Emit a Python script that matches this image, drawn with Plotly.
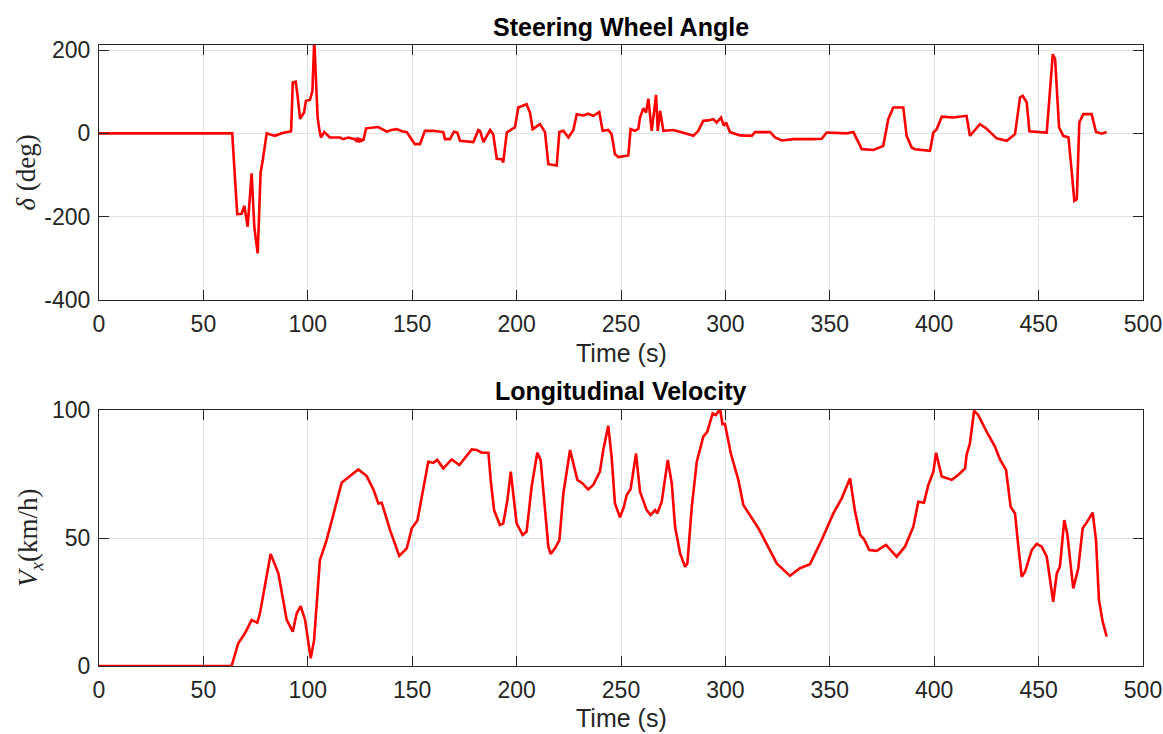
import plotly.graph_objects as go
from plotly.subplots import make_subplots

# ---------------- data ----------------
t_steer = [0, 63.8, 66.2, 68.3, 69.6, 71.2, 73.1, 74.4, 76.0, 77.4, 78.4, 80.3, 82.0, 84.3, 87.5,
           92.0, 92.8, 94.2, 95.1, 96.3, 98.2, 99.1, 101.0, 102.2, 103.1, 103.9, 104.7, 105.5,
           106.3, 107.9, 110.6, 115.4, 117.0, 119.4, 122.6, 123.5, 124.0, 124.5, 125.0, 125.5,
           126.0, 126.6, 127.9, 133.8, 137.8, 140.0, 142.6, 145.0, 147.4, 151.3, 153.7, 156.1,
           160.0, 164.9, 165.7, 168.1, 170.0, 171.6, 172.9, 179.3, 181.7, 182.5, 184.1, 187.3,
           188.8, 190.5, 192.9, 193.6, 195.3, 197.7, 199.2, 200.8, 204.8, 206.4, 207.7, 211.2,
           213.6, 215.2, 219.2, 220.5, 222.4, 224.8, 227.2, 228.8, 232.0, 234.3, 236.7, 239.6,
           241.2, 243.9, 245.5, 247.1, 248.7, 253.5, 254.6, 256.7, 258.3, 259.1, 260.7, 262.0,
           263.1, 264.7, 266.8, 267.6, 268.7, 270.3, 275.1, 281.5, 284.7, 287.0, 289.4, 291.8,
           294.2, 295.8, 297.9, 299.3, 300.3, 302.2, 307.0, 312.6, 314.2, 321.4, 323.8, 327.0,
           332.5, 342.1, 346.1, 348.5, 358.1, 361.3, 363.7, 365.3, 370.9, 375.6, 378.0, 380.4,
           385.2, 386.8, 389.2, 390.8, 398.0, 399.6, 401.2, 403.6, 409.1, 415.5, 417.1, 421.9,
           425.1, 429.9, 434.7, 438.7, 441.1, 442.4, 444.3, 445.6, 453.9, 455.5, 456.8, 457.9,
           459.8, 461.8, 464.3, 465.9, 467.1, 468.3, 469.5, 471.4, 475.4, 477.5, 480.2, 482.6]
steer_deg = [0, 0, -194, -193, -174, -224, -96, -226, -288, -94, -66, 0, -3, -6, 0,
             5, 122, 124, 90, 35, 50, 78, 80, 101, 225, 130, 38, 10,
             -10, 3, -10, -10, -14, -10, -14, -20, -10, -22, -12, -20,
             -14, -18, 12, 15, 4, 8, 10, 5, 3, -26, -26, 6,
             6, 3, -14, -14, 4, 2, -18, -21, 8, 6, -21, 8,
             -2, -61, -62, -70, 2, 10, 14, 62, 70, 50, 10, 22,
             3, -74, -77, 3, 6, -10, 8, 46, 43, 47, 42, 51,
             6, 8, -2, -50, -57, -53, 10, 6, 11, 38, 60, 50,
             83, 6, 92, 6, 54, 6, 8, -1, -6, 6, 30, 31,
             34, 26, 38, 18, 26, 3, -5, -6, 3, 3, -10, -17,
             -14, -14, -13, 2, 0, 3, -22, -38, -40, -30, 34, 62,
             62, -6, -34, -38, -42, 2, 10, 40, 38, 42, -6, 22,
             11, -12, -18, -2, 86, 90, 74, 5, 2, 106, 190, 178,
             14, -6, -10, -94, -162, -158, 26, 46, 46, 3, -1, 3]

t_vel = [0, 63.5, 66.7, 69.9, 73.1, 75.8, 77.1, 82.2, 85.9, 89.9, 92.8, 94.7, 96.6, 98.7, 101.4,
         103.0, 105.8, 109.0, 112.2, 116.2, 120.2, 124.2, 128.2, 131.4, 133.8, 135.4, 139.4,
         143.8, 147.4, 149.8, 152.5, 157.7, 160.1, 162.0, 164.9, 168.9, 172.6, 178.5, 180.9,
         183.3, 186.5, 187.6, 189.2, 192.0, 193.6, 195.6, 197.2, 198.4, 200.0, 202.9, 204.8,
         207.2, 209.9, 211.5, 213.6, 215.2, 216.3, 218.4, 220.5, 222.4, 225.6, 227.5, 229.1,
         231.2, 234.3, 236.7, 239.9, 241.5, 243.9, 245.5, 247.1, 249.5, 251.4, 252.7, 254.6,
         257.2, 259.1, 262.3, 264.2, 266.3, 267.4, 269.5, 272.4, 274.3, 275.9, 278.3, 280.7,
         281.8, 283.9, 286.3, 289.4, 291.3, 293.9, 295.5, 297.4, 298.6, 299.8, 302.6, 306.2,
         308.6, 315.8, 324.6, 330.9, 335.7, 340.5, 346.1, 351.7, 355.7, 359.7, 362.1, 364.5,
         366.4, 368.9, 372.4, 376.9, 382.0, 386.0, 390.0, 392.4, 395.1, 397.2, 399.6, 400.9,
         403.6, 408.4, 411.5, 414.8, 415.5, 417.1, 419.1, 421.1, 425.1, 429.1, 431.5, 434.4,
         436.6, 438.7, 440.3, 441.9, 443.5, 446.7, 449.1, 451.5, 453.9, 457.0, 458.7, 460.2,
         462.3, 463.7, 466.6, 469.0, 471.1, 473.0, 475.9, 477.5, 478.9, 480.7, 482.6]
vel_kmh = [0, 0, 8.9, 12.8, 18.0, 16.9, 20.6, 43.8, 36.2, 18.0, 13.4, 20.6, 23.4, 18.0, 3.0,
           10.0, 41.4, 49.2, 59.0, 71.6, 74.2, 76.8, 74.2, 69.0, 63.5, 63.8, 53.1,
           43.0, 46.0, 53.8, 56.8, 79.8, 79.4, 80.5, 77.2, 80.7, 78.5, 84.6, 84.4,
           83.3, 83.3, 72.7, 60.9, 55.1, 55.7, 64.8, 75.9, 67.4, 55.7, 51.2, 52.5,
           70.0, 83.3, 80.5, 60.9, 46.6, 43.8, 46.0, 49.2, 67.4, 84.4, 78.5, 72.7,
           71.6, 69.0, 70.7, 75.9, 84.4, 93.8, 81.8, 63.5, 58.1, 62.2, 66.8, 69.0,
           83.0, 68.1, 60.9, 59.0, 60.9, 59.6, 64.2, 80.5, 71.4, 54.4, 44.0, 38.8,
           40.1, 62.2, 79.8, 89.6, 91.5, 98.7, 98.0, 100.5, 94.5, 94.5, 83.0, 72.7,
           62.9, 53.8, 40.1, 35.2, 38.2, 39.8, 49.2, 59.6, 65.5, 73.3, 60.3, 51.2,
           49.5, 45.3, 45.0, 47.3, 42.7, 46.6, 54.4, 64.2, 63.8, 70.7, 75.9, 83.3,
           74.0, 72.7, 74.6, 77.2, 82.4, 87.0, 99.7, 98.0, 91.5, 85.7, 80.7, 76.6,
           62.2, 59.6, 46.6, 34.9, 36.8, 45.3, 47.7, 46.6, 42.7, 25.1, 36.2, 38.8,
           57.0, 51.8, 30.3, 38.2, 53.8, 56.0, 59.9, 49.2, 25.8, 17.3, 11.5]

x_ticks = [0, 50, 100, 150, 200, 250, 300, 350, 400, 450, 500]
steer_ticks = [-400, -200, 0, 200]
vel_ticks = [0, 50, 100]

# ---------------- figure ----------------
W, H = 1163, 734
ML, MR, MT, MB = 99, 20, 45, 68
PH = H - MT - MB

def py(pix):
    return (H - MB - pix) / PH

def px(pix):
    return (pix - ML) / (W - ML - MR)

fig = make_subplots(rows=2, cols=1)
fig.update_layout(
    yaxis=dict(domain=[py(300), 1.0]),
    yaxis2=dict(domain=[0.0, py(410)]),
)

LINE = dict(color="#ff0000", width=2.6)
fig.add_trace(go.Scatter(x=t_steer, y=steer_deg, mode="lines", line=LINE, showlegend=False), row=1, col=1)
fig.add_trace(go.Scatter(x=t_vel, y=vel_kmh, mode="lines", line=LINE, showlegend=False), row=2, col=1)

AX = dict(showline=True, linecolor="#262626", linewidth=1, mirror="ticks",
          ticks="inside", ticklen=10, tickwidth=1, tickcolor="#262626",
          showgrid=True, gridcolor="#e3e3e3", gridwidth=1, zeroline=False,
          tickfont=dict(family="Liberation Sans, Arial", size=23, color="#262626"))

fig.update_xaxes(**AX, range=[0, 500], tickvals=x_ticks, ticktext=[str(v) for v in x_ticks],
                 ticklabelstandoff=3)
fig.update_yaxes(**AX, ticklabelstandoff=3)
fig.update_yaxes(range=[-400, 212], tickvals=steer_ticks, ticktext=[str(v) for v in steer_ticks], row=1, col=1)
fig.update_yaxes(range=[0, 100], tickvals=vel_ticks, ticktext=[str(v) for v in vel_ticks], row=2, col=1)

SANS = "Liberation Sans, Arial"
SERIF = "Liberation Serif, DejaVu Serif, serif"
ann = [
    dict(text="<b>Steering Wheel Angle</b>", x=0.5, y=py(27), font=dict(family=SANS, size=25, color="#000")),
    dict(text="<b>Longitudinal Velocity</b>", x=0.5, y=py(391), font=dict(family=SANS, size=25, color="#000")),
    dict(text="Time (s)", x=0.5, y=py(353), font=dict(family=SANS, size=25, color="#262626")),
    dict(text="Time (s)", x=0.5, y=py(718), font=dict(family=SANS, size=25, color="#262626")),
    dict(text="<i>δ</i> (deg)", x=px(25), y=py(172.5), textangle=-90, font=dict(family=SERIF, size=27, color="#262626")),
    dict(text="<i>V</i><sub><i>x</i></sub>(km/h)", x=px(30), y=py(538), textangle=-90, font=dict(family=SERIF, size=27, color="#262626")),
]
for a in ann:
    a.update(xref="paper", yref="paper", showarrow=False, xanchor="center", yanchor="middle")
fig.update_layout(annotations=ann)

fig.update_layout(width=W, height=H, margin=dict(l=ML, r=MR, t=MT, b=MB, autoexpand=False),
                  plot_bgcolor="white", paper_bgcolor="white")

fig.write_html("out.html", config={"displayModeBar": False},
               post_script="document.body.style.margin='0';document.body.style.overflow='hidden';")
